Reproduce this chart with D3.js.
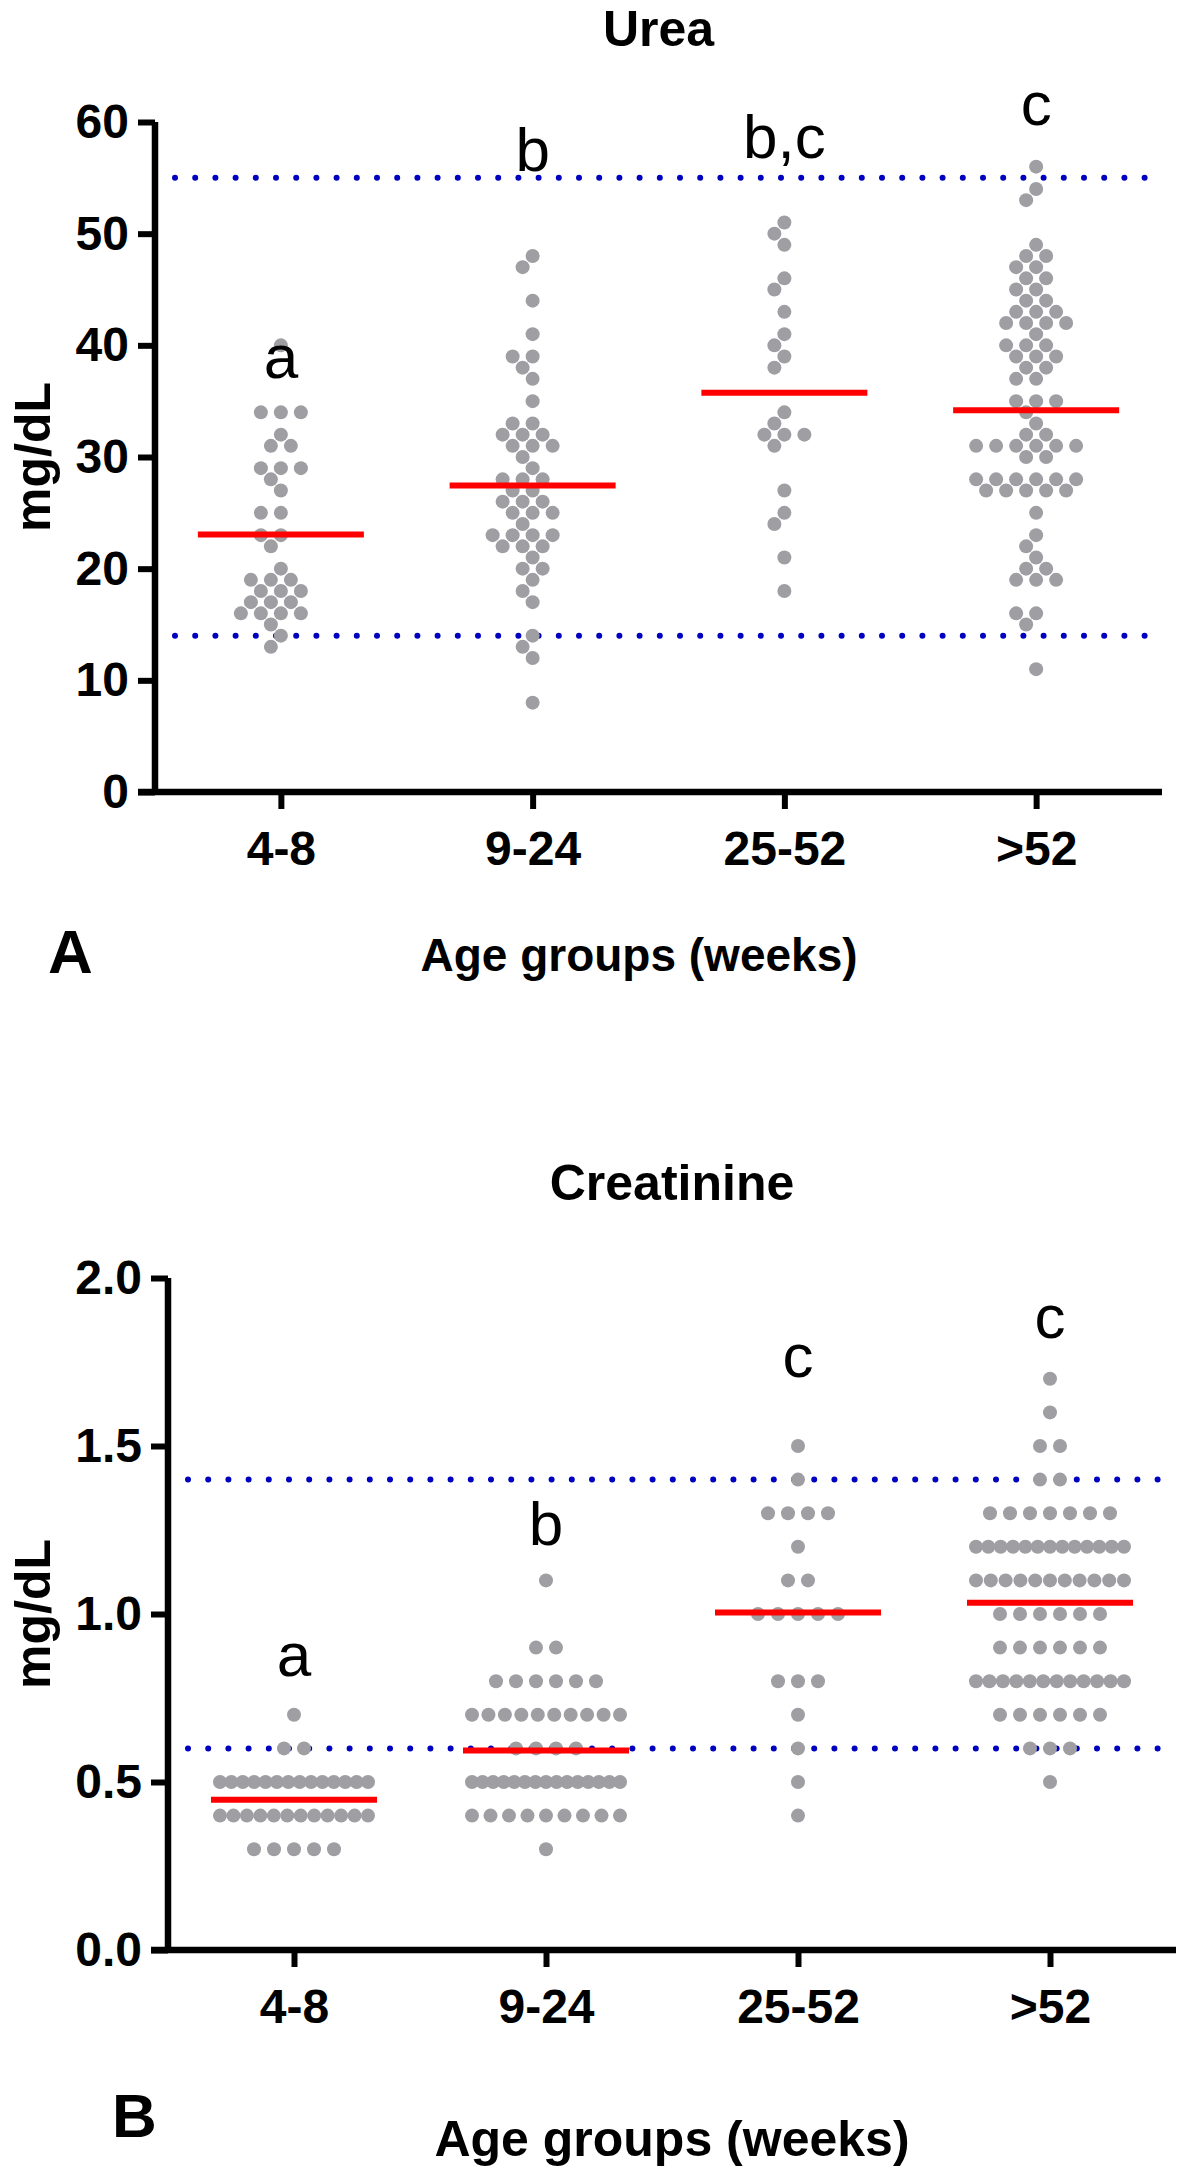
<!DOCTYPE html>
<html>
<head>
<meta charset="utf-8">
<script src="https://cdn.jsdelivr.net/npm/d3@7"></script>
<style>
  html, body { margin: 0; padding: 0; background: #fff; }
  svg { display: block; }
  text { font-family: "Liberation Sans", Arial, Helvetica, sans-serif; }
</style>
</head>
<body>
<div id="chart"></div>
<script>
// ---------------- DATA ----------------
const groups = ["4-8", "9-24", "25-52", ">52"];

const ureaG1 = [40,34,34,34,32,31,31,29,29,29,28,27,25,25,23,23,22,20,19,19,19,18,18,18,17,17,17,16,16,16,16,15,14,13];
const ureaG2 = [48,47,44,41,39,39,38,37,35,33,33,32,32,32,31,31,31,30,29,28,28,28,27,27,26,26,26,25,25,25,24,23,23,23,23,22,22,22,21,20,20,19,18,17,14,13,12,8];
const ureaG3 = [51,50,49,46,45,43,41,40,39,38,34,33,32,32,32,31,27,25,24,21,18];
const ureaG4 = [56,54,53,49,48,48,47,47,46,46,45,45,44,44,43,43,43,42,42,42,42,41,40,40,40,39,39,39,38,38,37,37,35,35,35,34,33,32,32,31,31,31,31,31,31,30,30,28,28,28,28,28,28,27,27,27,27,27,25,23,22,21,20,20,19,19,19,16,16,15,11];

const creaG1 = [0.7,0.6,0.6,
  0.5,0.5,0.5,0.5,0.5,0.5,0.5,0.5,0.5,0.5,0.5,0.5,0.5,0.5,
  0.4,0.4,0.4,0.4,0.4,0.4,0.4,0.4,0.4,0.4,0.4,0.4,
  0.3,0.3,0.3,0.3,0.3];
const creaG2 = [1.1,0.9,0.9,0.8,0.8,0.8,0.8,0.8,0.8,
  0.7,0.7,0.7,0.7,0.7,0.7,0.7,0.7,0.7,0.7,
  0.6,0.6,0.6,0.6,
  0.5,0.5,0.5,0.5,0.5,0.5,0.5,0.5,0.5,0.5,0.5,0.5,0.5,0.5,0.5,
  0.4,0.4,0.4,0.4,0.4,0.4,0.4,0.4,0.4,
  0.3];
const creaG3 = [1.5,1.4,1.3,1.3,1.3,1.3,1.2,1.1,1.1,1.0,1.0,1.0,1.0,1.0,0.8,0.8,0.8,0.7,0.6,0.5,0.4];
const creaG4 = [1.7,1.6,1.5,1.5,1.4,1.4,
  1.3,1.3,1.3,1.3,1.3,1.3,1.3,
  1.2,1.2,1.2,1.2,1.2,1.2,1.2,1.2,1.2,1.2,1.2,1.2,1.2,
  1.1,1.1,1.1,1.1,1.1,1.1,1.1,1.1,1.1,1.1,1.1,
  1.0,1.0,1.0,1.0,1.0,1.0,
  0.9,0.9,0.9,0.9,0.9,0.9,
  0.8,0.8,0.8,0.8,0.8,0.8,0.8,0.8,0.8,0.8,0.8,0.8,
  0.7,0.7,0.7,0.7,0.7,0.7,
  0.6,0.6,0.6,
  0.5];

const ureaRef = [14, 55];
const creaRef = [0.6, 1.4];
const ureaTicks = [0, 10, 20, 30, 40, 50, 60];
const creaTicks = [0, 0.5, 1.0, 1.5, 2.0];
const ureaLetters = ["a", "b", "b,c", "c"];
const creaLetters = ["a", "b", "c", "c"];

// ---------------- LAYOUT ----------------
const W = 1181, H = 2169;
const FONT = '"Liberation Sans", Arial, Helvetica, sans-serif';
const DOT_R = 7;

const panels = [
  { title: "Urea", letter: "A", data: [ureaG1, ureaG2, ureaG3, ureaG4],
    ref: ureaRef, ticks: ureaTicks, domain: [0, 60], fmt: d3.format("d"),
    letters: ureaLetters, letterAt: [37.1, 55.6, 56.8, 59.7],
    x0: 155, x1: 1162, yTop: 122, yBot: 792, titleY: 46,
    panelLetterX: 48, panelLetterY: 973, xTitleX: 639, xTitleY: 971, xTitleSize: 46,
    layout: "swarm" },
  { title: "Creatinine", letter: "B", data: [creaG1, creaG2, creaG3, creaG4],
    ref: creaRef, ticks: creaTicks, domain: [0, 2], fmt: d3.format(".1f"),
    letters: creaLetters, letterAt: [0.815, 1.205, 1.705, 1.82],
    x0: 168, x1: 1176, yTop: 1278, yBot: 1950, titleY: 1200,
    panelLetterX: 112, panelLetterY: 2137, xTitleX: 672, xTitleY: 2156, xTitleSize: 50,
    layout: "rows" }
];

const svg = d3.select("#chart").append("svg")
  .attr("width", W).attr("height", H)
  .attr("viewBox", `0 0 ${W} ${H}`);

// swarm layout (for continuous-ish values)
function swarmOffsets(vals, y) {
  const step = 10, maxHalf = 70, d = 2 * DOT_R;
  const idx = vals.map((v, i) => i).sort((a, b) => vals[b] - vals[a]);
  const placed = [];
  const off = new Array(vals.length);
  const cands = [0];
  for (let k = 1; k * step <= maxHalf; k++) { cands.push(-k * step, k * step); }
  idx.forEach(i => {
    const py = y(vals[i]);
    let best = null, bestOverlap = Infinity;
    for (const c of cands) {
      let ov = 0;
      for (const p of placed) {
        const dx = c - p.x, dy = py - p.y;
        const dist = Math.sqrt(dx * dx + dy * dy);
        if (dist < d - 0.01) ov = Math.max(ov, d - dist);
      }
      if (ov === 0) { best = c; bestOverlap = 0; break; }
      if (ov < bestOverlap) { bestOverlap = ov; best = c; }
    }
    off[i] = best;
    placed.push({ x: best, y: py });
  });
  return off;
}

// row layout (for discrete tied values)
function rowOffsets(vals) {
  const maxSpan = 148, maxStep = 20;
  const byKey = d3.group(vals.map((v, i) => i), i => Math.round(vals[i] * 1000));
  const off = new Array(vals.length);
  byKey.forEach(ids => {
    const n = ids.length;
    const s = n > 1 ? Math.min(maxStep, maxSpan / (n - 1)) : 0;
    ids.forEach((id, j) => { off[id] = (j - (n - 1) / 2) * s; });
  });
  return off;
}

panels.forEach(P => {
  const g = svg.append("g");
  const x = d3.scalePoint().domain(groups).range([P.x0, P.x1]).padding(0.5);
  const y = d3.scaleLinear().domain(P.domain).range([P.yBot, P.yTop]);

  // reference dotted lines
  g.selectAll(".ref").data(P.ref).enter().append("line")
    .attr("x1", P.x0 + 20).attr("x2", P.x1 - 4)
    .attr("y1", d => y(d)).attr("y2", d => y(d))
    .attr("stroke", "#0000c0").attr("stroke-width", 6)
    .attr("stroke-linecap", "round").attr("stroke-dasharray", "0 20.2");

  // dots
  P.data.forEach((vals, gi) => {
    const offs = P.layout === "swarm" ? swarmOffsets(vals, y) : rowOffsets(vals);
    g.append("g").selectAll("circle").data(vals).enter().append("circle")
      .attr("cx", (d, i) => x(groups[gi]) + offs[i])
      .attr("cy", d => y(d))
      .attr("r", DOT_R)
      .attr("fill", "#9e9ea3");
  });

  // mean lines
  P.data.forEach((vals, gi) => {
    const m = d3.mean(vals);
    g.append("line")
      .attr("x1", x(groups[gi]) - 83).attr("x2", x(groups[gi]) + 83)
      .attr("y1", y(m)).attr("y2", y(m))
      .attr("stroke", "#ff0000").attr("stroke-width", 6);
  });

  // axes
  const yAxis = d3.axisLeft(y).tickValues(P.ticks).tickFormat(P.fmt)
    .tickSize(17).tickPadding(9);
  const ya = g.append("g").attr("transform", `translate(${P.x0},0)`).call(yAxis);
  ya.select(".domain").attr("stroke", "#000").attr("stroke-width", 6.5)
    .attr("d", `M0,${P.yTop}V${P.yBot}`);
  ya.selectAll(".tick line").attr("stroke", "#000").attr("stroke-width", 6);
  ya.selectAll(".tick text").attr("font-family", FONT).attr("font-weight", "bold")
    .attr("font-size", 48).attr("fill", "#000");

  const xAxis = d3.axisBottom(x).tickSize(17).tickPadding(22);
  const xa = g.append("g").attr("transform", `translate(0,${P.yBot})`).call(xAxis);
  xa.select(".domain").attr("stroke", "#000").attr("stroke-width", 6.5)
    .attr("d", `M${P.x0 - 17},0H${P.x1}`);
  xa.selectAll(".tick line").attr("stroke", "#000").attr("stroke-width", 6);
  xa.selectAll(".tick text").attr("font-family", FONT).attr("font-weight", "bold")
    .attr("font-size", 48).attr("fill", "#000");

  // significance letters
  g.selectAll(".sig").data(P.letters).enter().append("text")
    .attr("x", (d, i) => x(groups[i]))
    .attr("y", (d, i) => y(P.letterAt[i]))
    .attr("text-anchor", "middle")
    .attr("font-family", FONT).attr("font-size", 62).attr("fill", "#000")
    .text(d => d);

  // title
  g.append("text").attr("x", (P.x0 + P.x1) / 2).attr("y", P.titleY)
    .attr("text-anchor", "middle").attr("font-family", FONT)
    .attr("font-weight", "bold").attr("font-size", 50).text(P.title);

  // y axis title
  g.append("text")
    .attr("transform", `translate(50,${(P.yTop + P.yBot) / 2}) rotate(-90)`)
    .attr("text-anchor", "middle").attr("font-family", FONT)
    .attr("font-weight", "bold").attr("font-size", 50).text("mg/dL");

  // x axis title
  g.append("text").attr("x", P.xTitleX).attr("y", P.xTitleY)
    .attr("text-anchor", "middle").attr("font-family", FONT)
    .attr("font-weight", "bold").attr("font-size", P.xTitleSize).text("Age groups (weeks)");

  // panel letter
  g.append("text").attr("x", P.panelLetterX).attr("y", P.panelLetterY)
    .attr("font-family", FONT).attr("font-weight", "bold")
    .attr("font-size", 62).text(P.letter);
});
</script>
</body>
</html>
